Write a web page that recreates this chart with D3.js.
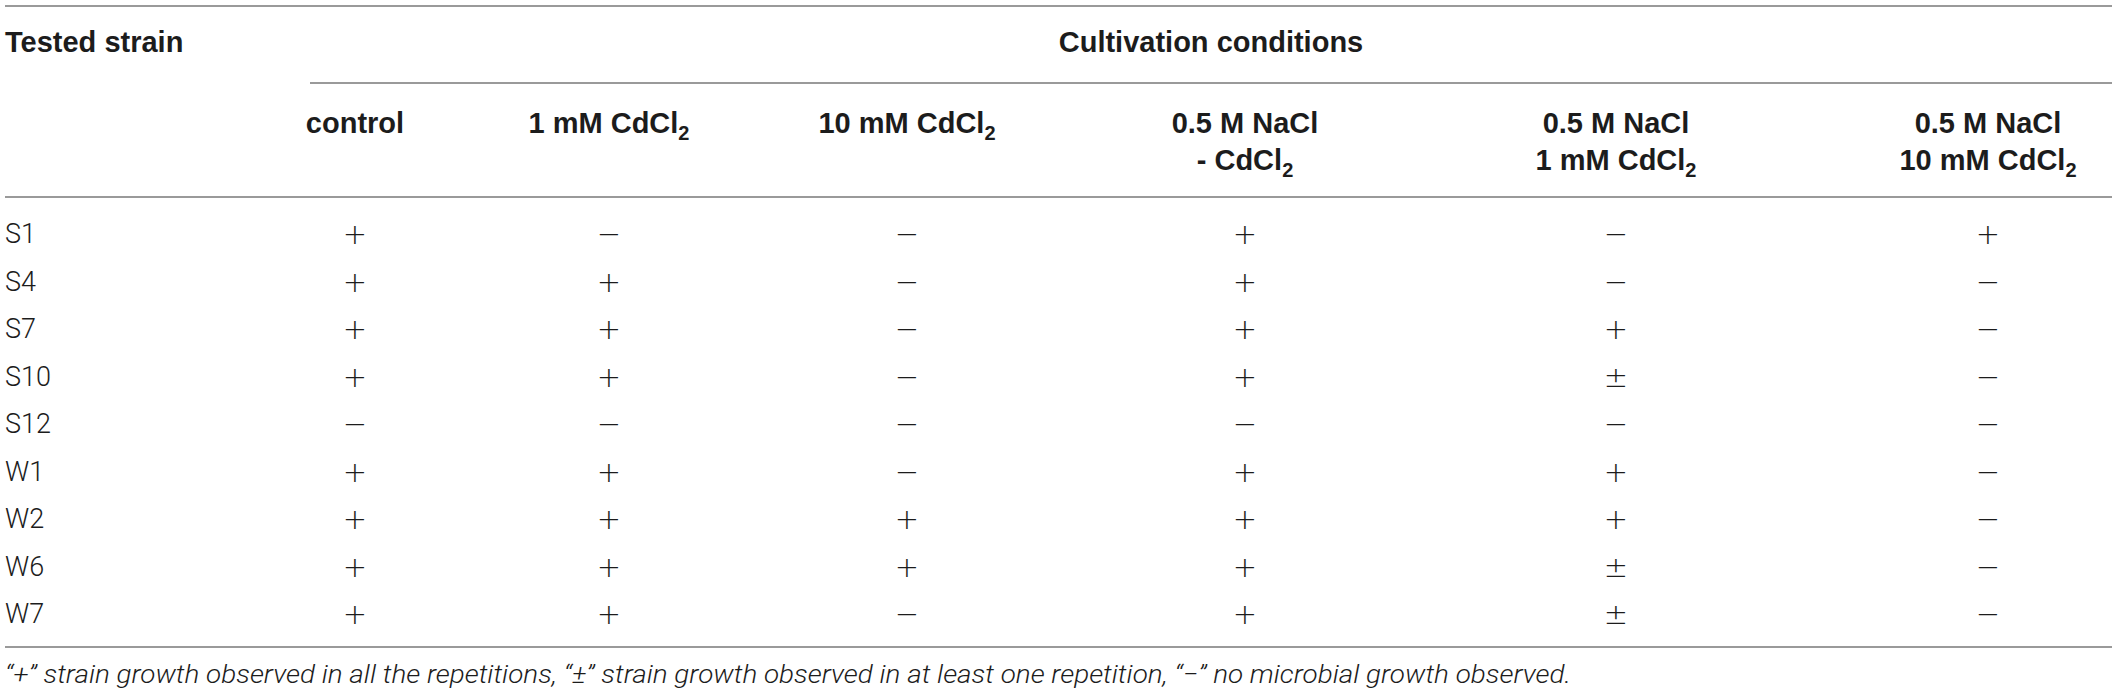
<!DOCTYPE html>
<html>
<head>
<meta charset="utf-8">
<script src="https://cdn.jsdelivr.net/npm/d3@7"></script>
<style>
  html, body { margin: 0; padding: 0; background: #fff; }
  svg { display: block; }
</style>
</head>
<body>
<svg id="chart" width="2117" height="696"></svg>
<script>
// table content
const strains = ["S1", "S4", "S7", "S10", "S12", "W1", "W2", "W6", "W7"]
const conditions = ["control", "1 mM CdCl2", "10 mM CdCl2", "0.5 M NaCl - CdCl2", "0.5 M NaCl 1 mM CdCl2", "0.5 M NaCl 10 mM CdCl2"]
// header lines, "_" marks a subscript
const headerLines = [["control"], ["1 mM CdCl_2"], ["10 mM CdCl_2"], ["0.5 M NaCl", "- CdCl_2"], ["0.5 M NaCl", "1 mM CdCl_2"], ["0.5 M NaCl", "10 mM CdCl_2"]]

// growth per condition, one entry per strain (same order as strains)
const control      = ["+", "+", "+", "+", "−", "+", "+", "+", "+"]
const cd1          = ["−", "+", "+", "+", "−", "+", "+", "+", "+"]
const cd10         = ["−", "−", "−", "−", "−", "−", "+", "+", "−"]
const nacl         = ["+", "+", "+", "+", "−", "+", "+", "+", "+"]
const naclCd1      = ["−", "−", "+", "±", "−", "+", "+", "±", "±"]
const naclCd10     = ["+", "−", "−", "−", "−", "−", "−", "−", "−"]
const columns = [control, cd1, cd10, nacl, naclCd1, naclCd10]

const firstHeader = "Tested strain"
const spanHeader = "Cultivation conditions"
const footnote = "“+” strain growth observed in all the repetitions, “±” strain growth observed in at least one repetition, “−” no microbial growth observed."

// layout
const left = 5, right = 2112
const colCenters = [355, 609, 907, 1245, 1616, 1988]
const spanLeft = 310
const footWidth = 1566
const lineColor = "#9a9a9a"
const textColor = "#1c1c1c"
const boldFont = "'Liberation Sans', Arial, Helvetica, sans-serif"
const lightFont = "Roboto, 'Open Sans', 'Liberation Sans', sans-serif"
const markFont = "'DejaVu Sans', sans-serif"

const svg = d3.select("#chart")

const x = d3.scaleOrdinal().domain(conditions).range(colCenters)
const y = d3.scalePoint().domain(strains).range([233, 613])

// rules
const rules = [
    { y: 6, x1: left, x2: right },
    { y: 83, x1: spanLeft, x2: right },
    { y: 197, x1: left, x2: right },
    { y: 647, x1: left, x2: right }
]
svg.append("g")
    .attr("id", "rules")
    .selectAll("line")
    .data(rules)
    .enter()
    .append("line")
    .attr("x1", d => d.x1)
    .attr("x2", d => d.x2)
    .attr("y1", d => d.y)
    .attr("y2", d => d.y)
    .attr("stroke", lineColor)
    .attr("stroke-width", 1.8)

// top header row
const head = svg.append("g")
    .attr("id", "header")
    .style("font-family", boldFont)
    .style("font-weight", "bold")
    .style("font-size", "29px")
    .attr("fill", textColor)

head.append("text")
    .attr("x", left)
    .attr("y", 52)
    .text(firstHeader)

head.append("text")
    .attr("x", (spanLeft + right) / 2)
    .attr("y", 52)
    .attr("text-anchor", "middle")
    .text(spanHeader)

// condition headers
function addLine(sel, line){
    const parts = line.split("_")
    sel.append("tspan").text(parts[0])
    if (parts[1]) {
        sel.append("tspan")
            .attr("dy", 7)
            .style("font-size", "20px")
            .text(parts[1])
    }
}

head.selectAll("g.cond")
    .data(conditions)
    .enter()
    .append("g")
    .attr("class", "cond")
    .each(function(d, i) {
        const g = d3.select(this)
        headerLines[i].forEach((line, j) => {
            const t = g.append("text")
                .attr("x", x(d))
                .attr("y", 133 + j * 37)
                .attr("text-anchor", "middle")
            addLine(t, line)
        })
    })

// strain labels
svg.append("g")
    .attr("id", "strains")
    .selectAll("text")
    .data(strains)
    .enter()
    .append("text")
    .attr("x", left)
    .attr("y", d => y(d) + 10)
    .style("font-family", lightFont)
    .style("font-weight", 300)
    .style("font-size", "27px")
    .attr("fill", textColor)
    .text(d => d)

// growth marks
const cells = []
columns.forEach((col, ci) => {
    col.forEach((v, si) => cells.push({ cond: conditions[ci], strain: strains[si], v }))
})

svg.append("g")
    .attr("id", "cells")
    .selectAll("text")
    .data(cells)
    .enter()
    .append("text")
    .attr("x", d => x(d.cond))
    .attr("y", d => y(d.strain) + 11)
    .attr("text-anchor", "middle")
    .style("font-family", markFont)
    .style("font-weight", 200)
    .style("font-size", "29px")
    .attr("fill", textColor)
    .text(d => d.v)

// footnote: original face is a condensed italic, so squeeze it to its width
svg.append("text")
    .attr("x", left)
    .attr("y", 683)
    .attr("textLength", footWidth)
    .attr("lengthAdjust", "spacingAndGlyphs")
    .style("font-family", lightFont)
    .style("font-weight", 300)
    .style("font-style", "italic")
    .style("font-size", "26px")
    .attr("fill", textColor)
    .text(footnote)
</script>
</body>
</html>
